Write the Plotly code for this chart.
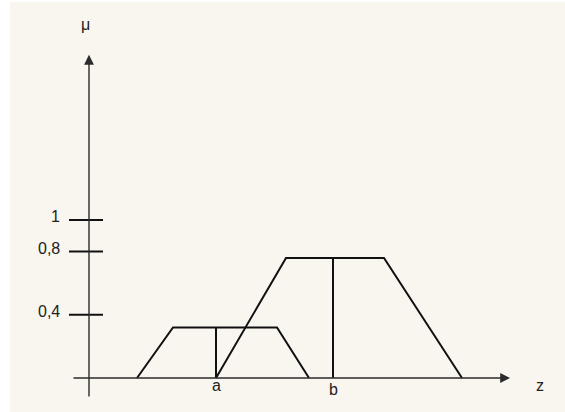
import plotly.graph_objects as go

# z positions (arbitrary units, origin on the mu axis) and membership degrees
small_z = [4.8, 8.4, 18.8, 22.0]
small_mu = [0, 0.32, 0.32, 0]
big_z = [12.7, 19.7, 29.5, 37.3]
big_mu = [0, 0.76, 0.76, 0]
a_z, a_mu = 12.7, 0.32
b_z, b_mu = 24.4, 0.76

tick_vals = [1, 0.8, 0.4]
tick_text = ["1", "0,8", "0,4"]

x_axis_z = [-1.7, 42.1]
y_axis_mu = [-0.127, 2.045]

BG = "#f9f6f0"
AX = "#2b2b2b"
FONT = dict(family="Liberation Sans, Arial", size=16, color="#222")

fig = go.Figure()

# tick marks on the mu axis
for v in tick_vals:
    fig.add_trace(go.Scatter(x=[-2.0, 1.4], y=[v, v], mode="lines",
                             line=dict(color="#111", width=2)))

# trapezoids
fig.add_trace(go.Scatter(x=small_z, y=small_mu, mode="lines", line=dict(color="#111", width=2)))
fig.add_trace(go.Scatter(x=big_z, y=big_mu, mode="lines", line=dict(color="#111", width=2)))
fig.add_trace(go.Scatter(x=[a_z, a_z], y=[0, a_mu], mode="lines", line=dict(color="#111", width=2)))
fig.add_trace(go.Scatter(x=[b_z, b_z], y=[0, b_mu], mode="lines", line=dict(color="#111", width=2)))

# axes drawn as arrows
arrow = dict(showarrow=True, text="", axref="x", ayref="y", arrowhead=2, arrowsize=1.4,
             arrowwidth=1.4, arrowcolor=AX, standoff=0, startstandoff=0)
annotations = [
    dict(x=x_axis_z[1], y=0, ax=x_axis_z[0], ay=0, **arrow),
    dict(x=0, y=y_axis_mu[1], ax=0, ay=y_axis_mu[0], **arrow),
]
for v, t in zip(tick_vals, tick_text):
    annotations.append(dict(x=-2.7, y=v + 0.02, text=t, showarrow=False, xanchor="right",
                            yanchor="middle", font=FONT))
annotations += [
    dict(x=a_z, y=-0.05, text="a", showarrow=False, font=FONT),
    dict(x=b_z, y=-0.075, text="b", showarrow=False, font=FONT),
    dict(x=45.1, y=-0.05, text="z", showarrow=False, font=FONT),
    dict(x=-0.4, y=2.24, text="μ", showarrow=False, font=FONT),
]

fig.update_layout(
    width=565, height=412,
    margin=dict(l=0, r=0, t=0, b=0),
    paper_bgcolor="white", plot_bgcolor=BG,
    showlegend=False,
    xaxis=dict(range=[-8.9, 47.6], visible=False, fixedrange=True),
    yaxis=dict(range=[-0.215, 2.392], visible=False, fixedrange=True),
    annotations=annotations,
    shapes=[dict(type="rect", xref="paper", yref="paper", x0=0, x1=10 / 565, y0=0, y1=1,
                 fillcolor="white", line_width=0, layer="below"),
            dict(type="rect", xref="paper", yref="paper", x0=0, x1=1, y0=1 - 2 / 412, y1=1,
                 fillcolor="white", line_width=0, layer="below")],
)

fig.write_html("out.html", post_script="document.body.style.margin='0';",
               config={"displayModeBar": False})
